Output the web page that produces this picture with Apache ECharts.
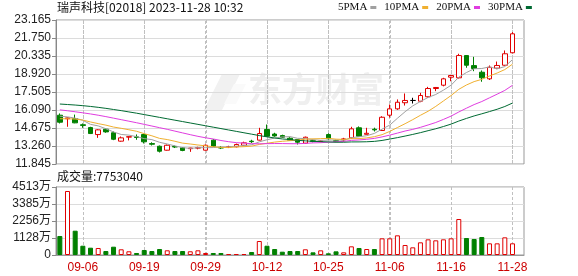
<!DOCTYPE html>
<html><head><meta charset="utf-8">
<script src="https://cdn.jsdelivr.net/npm/echarts@6/dist/echarts.min.js"></script>
<style>html,body{margin:0;padding:0;background:#fff}#c{width:578px;height:276px}</style>
</head><body><div id="c"></div>
<script>
const titleText = '瑞声科技[02018] 2023-11-28 10:32';
const dates = ['09-01','09-04','09-05','09-06','09-07','09-11','09-12','09-13','09-14','09-15','09-18','09-19','09-20','09-21','09-22','09-25','09-26','09-27','09-28','09-29',
'10-03','10-04','10-05','10-06','10-09','10-10','10-11','10-12','10-13','10-16','10-17','10-18','10-19','10-20','10-24','10-25','10-26','10-27','10-30','10-31',
'11-01','11-02','11-03','11-06','11-07','11-08','11-09','11-10','11-13','11-14','11-15','11-16','11-17','11-20','11-21','11-22','11-23','11-24','11-27','11-28',''];
const labelDates = ['09-06','09-19','09-29','10-12','10-25','11-06','11-16','11-28'];
const opens = [15.68,15.40,15.41,14.93,14.71,14.16,14.58,14.30,13.64,13.96,13.98,14.16,13.45,13.24,12.93,13.22,13.12,13.05,13.10,12.93,13.72,13.15,13.18,13.20,13.32,13.64,13.72,14.56,14.20,14.08,13.87,13.77,13.48,13.68,13.62,14.16,13.68,13.74,13.90,14.69,14.18,14.58,14.48,15.68,16.18,16.66,16.84,16.78,17.13,17.78,18.04,18.67,18.62,20.37,19.58,19.06,18.54,19.38,19.61,20.59];
const closes = [15.13,15.47,15.08,14.88,14.24,14.53,14.37,13.79,13.90,13.99,13.93,13.59,13.40,12.85,13.32,13.18,12.91,13.10,13.12,13.32,13.24,13.10,13.20,13.38,13.51,13.60,14.24,14.03,14.05,13.95,13.72,13.56,13.95,13.62,13.66,13.83,13.63,13.82,14.61,14.03,14.26,14.53,15.52,16.18,16.70,16.84,16.84,17.23,17.78,17.86,18.54,18.80,20.37,19.61,19.35,18.62,19.45,19.59,20.51,22.08];
const highs = [15.82,15.50,15.73,15.03,14.77,14.58,14.65,14.40,14.01,14.02,14.17,14.20,13.55,13.30,13.38,13.30,13.18,13.12,13.20,13.38,13.80,13.25,13.28,13.45,13.60,13.75,14.69,14.95,14.30,14.15,13.95,13.80,14.00,13.75,13.72,14.25,13.75,13.90,14.77,14.80,14.69,14.70,15.60,16.52,16.92,17.39,17.05,17.44,17.91,17.90,18.62,18.85,20.51,20.40,20.27,19.20,19.59,19.90,20.77,22.21];
const lows = [15.03,14.77,15.05,14.69,14.20,13.90,14.30,13.72,13.60,13.70,13.75,13.46,13.30,12.75,12.90,13.10,12.85,12.80,13.00,12.90,13.20,13.02,13.10,13.15,13.28,13.50,13.69,14.00,13.99,13.90,13.68,13.38,13.45,13.55,13.55,13.75,13.58,13.60,13.85,14.00,14.15,14.40,14.45,15.50,16.10,16.44,16.60,16.70,17.05,17.57,17.95,18.35,18.57,19.41,19.14,18.31,18.45,19.30,19.58,20.55];
// volume in 万 (10k shares)
const volumes = [1261,4248,1613,617,485,465,265,551,378,246,133,332,265,398,312,265,265,246,312,133,133,133,66,66,66,199,929,617,398,219,265,265,378,177,310,113,243,177,575,465,398,398,1106,1106,1305,664,509,841,1040,973,1040,1106,2389,1128,1062,1195,774,774,1172,775.304];
const ma5Head = [15.60,15.55,15.45,15.28];
const ma10Head = [15.40,15.40,15.38,15.30,15.15,15.02,14.90,14.75,14.65];
const ma20Head = [16.10,16.03,15.95,15.87,15.78,15.68,15.57,15.45,15.33,15.21,15.09,14.96,14.83,14.70,14.57,14.43,14.29,14.15,14.02];
const ma30Head = [16.56,16.52,16.48,16.43,16.37,16.30,16.22,16.13,16.04,15.94,15.84,15.73,15.62,15.51,15.40,15.29,15.18,15.07,14.96,14.85,14.74,14.63,14.52,14.41,14.30,14.19,14.08,13.98,13.89];
const priceTicks = {min: 11.845, max: 23.165, interval: 1.415};
const volTickLabels = ['0','1128万','2256万','3385万','4513万'];
const volMax = 4513;

function ma(n, head) {
  const out = [];
  for (let i = 0; i < closes.length; i++) {
    if (i < n - 1) { out.push(head[i]); continue; }
    let s = 0; for (let j = i - n + 1; j <= i; j++) s += closes[j];
    out.push(+(s / n).toFixed(3));
  }
  return out;
}
const UP = '#e00000', DOWN = '#008000';
const kData = opens.map((o, i) => [o, closes[i], lows[i], highs[i]]);
const volData = volumes.map((v, i) => {
  const up = closes[i] >= opens[i];
  return {value: v, itemStyle: up ? {color: '#fff', borderColor: UP, borderWidth: 1} : {color: DOWN, borderColor: DOWN, borderWidth: 1}};
});
const labelIdx = labelDates.map(d => dates.indexOf(d));
const isLabelDay = (idx, val) => labelDates.includes(val);
const FONT = 'Liberation Sans, Noto Sans CJK SC, sans-serif';
// vertical dashed guides through the labelled days: custom series drawing short 1px rects
const guideSeries = (xi, yi, yMin, yMax) => ({
  type: 'custom', xAxisIndex: xi, yAxisIndex: yi, silent: true, z: 2,
  encode: {x: 0, y: 1},
  data: labelIdx.map(i => [i, yMin]),
  renderItem: (params, api) => {
    const p0 = api.coord([api.value(0), yMin]);
    const p1 = api.coord([api.value(0), yMax]);
    const x = Math.round(p0[0]);
    const children = [];
    for (let y = p1[1]; y < p0[1]; y += 5) {
      children.push({type: 'rect', shape: {x: x, y: y, width: 1, height: Math.min(3, p0[1] - y)},
        style: {fill: '#c0c0c0'}});
    }
    return {type: 'group', children: children};
  }
});

const chart = echarts.init(document.getElementById('c'), null, {renderer: 'canvas'});
chart.setOption({
  animation: false,
  backgroundColor: '#fff',
  title: [
    {text: titleText, left: 57, top: 1, padding: 0, textStyle: {fontSize: 12, fontWeight: 'normal', color: '#111', fontFamily: 'Noto Sans CJK SC'}},
    {text: '成交量:' + Math.round(volumes[volumes.length - 1] * 10000), left: 57, top: 170, padding: 0, textStyle: {fontSize: 12, fontWeight: 'normal', color: '#111', fontFamily: 'Noto Sans CJK SC'}}
  ],
  legend: {
    data: ['5PMA','10PMA','20PMA','30PMA'], left: 338, top: 2, padding: 0,
    align: 'right', icon: 'rect', itemWidth: 6, itemHeight: 3, itemGap: 8,
    textStyle: {fontSize: 11, color: '#111', fontFamily: 'Liberation Serif', padding: [0, -2, 0, 0]}
  },
  graphic: [
    {type: 'text', left: 248, top: 72, z: 0, silent: true,
     style: {text: '东方财富', fontSize: 34, fontWeight: 'bold', fill: '#efefef', fontFamily: 'Noto Sans CJK SC'}},
    {type: 'polygon', z: 0, silent: true, shape: {points: [[222,74],[240,74],[222,110],[204,110]]}, style: {fill: '#f1f1f1'}},
    {type: 'polygon', z: 0, silent: true, shape: {points: [[234,84],[246,84],[236,104],[224,104]]}, style: {fill: '#fafafa'}}
  ],
  grid: [
    {left: 56, right: 54, top: 20, height: 144, show: true, borderColor: '#999', borderWidth: 1, backgroundColor: 'transparent'},
    {left: 56, right: 54, top: 187, height: 68, show: true, borderColor: '#999', borderWidth: 1, backgroundColor: 'transparent'}
  ],
  xAxis: [
    {type: 'category', gridIndex: 0, data: dates, boundaryGap: true,
     axisLine: {show: false}, axisLabel: {show: false}, splitLine: {show: false},
     axisTick: {show: true, inside: true, length: 144, alignWithLabel: true, interval: isLabelDay,
       lineStyle: {color: '#c0c0c0', width: 1, type: [3, 2]}}},
    {type: 'category', gridIndex: 1, data: dates, boundaryGap: true,
     axisLine: {lineStyle: {color: '#999'}}, splitLine: {show: false},
     axisTick: {show: true, inside: true, length: 68, alignWithLabel: true, interval: isLabelDay,
       lineStyle: {color: '#c0c0c0', width: 1, type: [3, 2]}},
     axisLabel: {interval: isLabelDay, color: '#cc0000', fontSize: 12, fontFamily: FONT, margin: 7}}
  ],
  yAxis: [
    {type: 'value', gridIndex: 0, min: priceTicks.min, max: priceTicks.max, interval: priceTicks.interval,
     axisLine: {show: true, lineStyle: {color: '#888'}}, axisTick: {show: true, length: 4, lineStyle: {color: '#888'}},
     axisLabel: {formatter: v => v.toFixed(3), color: '#222', fontSize: 12, fontFamily: FONT, margin: 5},
     splitLine: {show: true, lineStyle: {color: '#dcdcdc', width: 1}}},
    {type: 'value', gridIndex: 1, min: 0, max: volMax, interval: volMax / 4,
     axisLine: {show: true, lineStyle: {color: '#888'}}, axisTick: {show: true, length: 4, lineStyle: {color: '#888'}},
     axisLabel: {formatter: v => volTickLabels[Math.round(v / (volMax / 4))], color: '#222', fontSize: 12, fontFamily: FONT, margin: 5},
     splitLine: {show: true, lineStyle: {color: '#dcdcdc', width: 1}}}
  ],
  series: [
    guideSeries(0, 0, priceTicks.min, priceTicks.max),
    guideSeries(1, 1, 0, volMax),
    {type: 'candlestick', name: 'K', xAxisIndex: 0, yAxisIndex: 0, data: kData, barWidth: 5, z: 3,
     itemStyle: {color: '#fff', color0: DOWN, borderColor: UP, borderColor0: DOWN, borderColorDoji: '#000', borderWidth: 1}},
    {type: 'line', name: '5PMA', data: ma(5, ma5Head), symbol: 'none', z: 4, lineStyle: {width: 1, color: '#a0a0a0'}, itemStyle: {color: '#a0a0a0'}},
    {type: 'line', name: '10PMA', data: ma(10, ma10Head), symbol: 'none', z: 4, lineStyle: {width: 1, color: '#f0b030'}, itemStyle: {color: '#f0b030'}},
    {type: 'line', name: '20PMA', data: ma(20, ma20Head), symbol: 'none', z: 4, lineStyle: {width: 1, color: '#e03ce0'}, itemStyle: {color: '#e03ce0'}},
    {type: 'line', name: '30PMA', data: ma(30, ma30Head), symbol: 'none', z: 4, lineStyle: {width: 1, color: '#006a32'}, itemStyle: {color: '#006a32'}},
    {type: 'bar', name: 'VOL', xAxisIndex: 1, yAxisIndex: 1, data: volData, barWidth: 5, z: 3}
  ]
});
</script></body></html>
